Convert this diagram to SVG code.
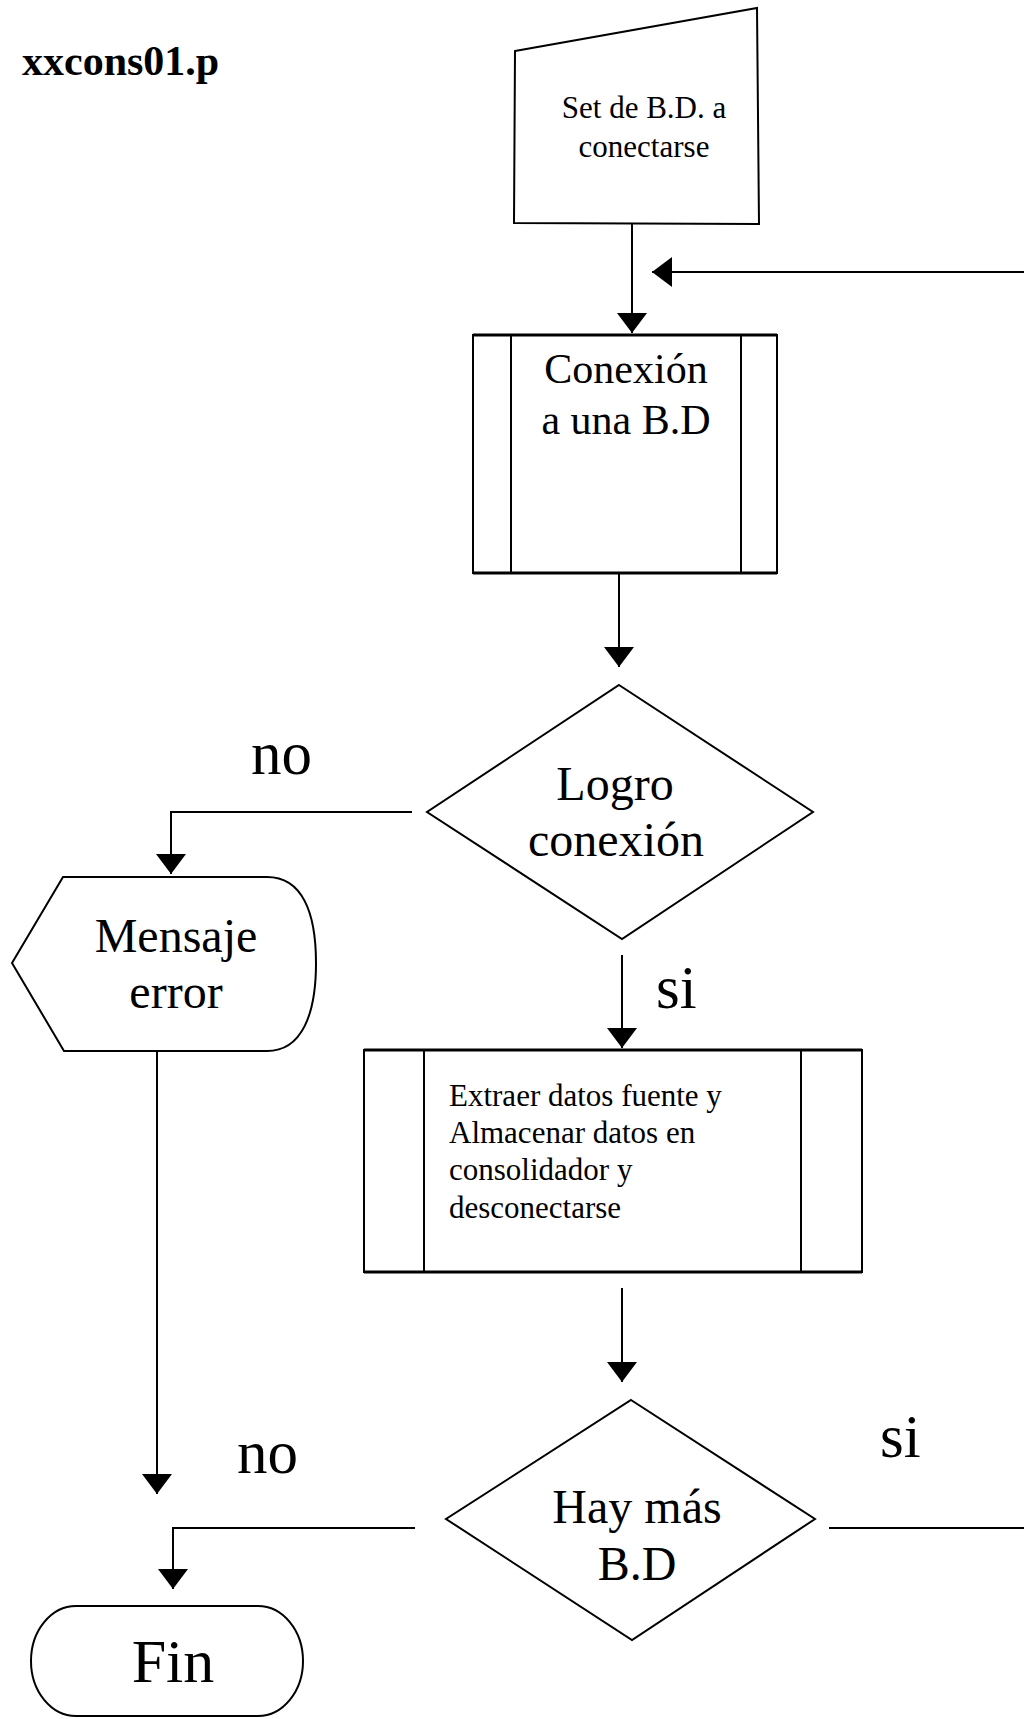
<svg xmlns="http://www.w3.org/2000/svg" width="1024" height="1719" viewBox="0 0 1024 1719">
<defs>
<style>
.shape{fill:#fff;stroke:#000;stroke-width:2}
.thick{fill:none;stroke:#000;stroke-width:3}
.ln{fill:none;stroke:#000;stroke-width:2}
.t{font-family:"Liberation Serif","Times New Roman",serif;fill:#000}
.mid{text-anchor:middle}
.s31{font-size:31px}
.s42{font-size:42px}
.s48{font-size:48px}
.lbl{font-size:61px}
</style>
<marker id="ah" markerUnits="userSpaceOnUse" markerWidth="21" markerHeight="30" refX="20" refY="15" orient="auto">
<path d="M0,0 L20,15 L0,30 Z" fill="#000"/>
</marker>
</defs>
<rect width="1024" height="1719" fill="#fff"/>

<text class="t" x="22" y="75" font-size="42" font-weight="bold">xxcons01.p</text>

<g id="connectors">
<path class="ln" d="M632,224 V333" marker-end="url(#ah)"/>
<path class="ln" d="M1024,272 H652" marker-end="url(#ah)"/>
<path class="ln" d="M619,574 V667" marker-end="url(#ah)"/>
<path class="ln" d="M412,812 H171 V874" marker-end="url(#ah)"/>
<path class="ln" d="M622,955 V1048" marker-end="url(#ah)"/>
<path class="ln" d="M622,1288 V1382" marker-end="url(#ah)"/>
<path class="ln" d="M157,1051 V1494" marker-end="url(#ah)"/>
<path class="ln" d="M415,1528 H173 V1589" marker-end="url(#ah)"/>
<path class="ln" d="M829,1528 H1024"/>
<text class="t lbl" x="251" y="774">no</text>
<text class="t lbl" x="656" y="1008">si</text>
<text class="t lbl" x="880" y="1457">si</text>
<text class="t lbl" x="237" y="1473">no</text>
</g>

<g id="set-bd">
<path class="shape" d="M515,51 L757,8 L759,224 L514,223 Z"/>
<text class="t s31 mid" x="644" y="118">Set de B.D. a</text>
<text class="t s31 mid" x="644" y="157">conectarse</text>
</g>

<g id="conexion">
<rect class="shape" x="473" y="335" width="304" height="238"/>
<path class="thick" d="M473,335 H777 M473,573 H777"/>
<path class="ln" d="M511,335 V573 M741,335 V573"/>
<text class="t s42 mid" x="626" y="383">Conexión</text>
<text class="t s42 mid" x="626" y="434">a una B.D</text>
</g>

<g id="logro">
<path class="shape" d="M619,685 L813,812 L622,939 L427,812 Z"/>
<text class="t s48 mid" x="615" y="800">Logro</text>
<text class="t s48 mid" x="616" y="856">conexión</text>
</g>

<g id="mensaje">
<path class="shape" d="M63,877 H267 C302,877 316,912 316,963 C316,1014 302,1051 267,1051 H64 L12,963 Z"/>
<text class="t s48 mid" x="176" y="952">Mensaje</text>
<text class="t s48 mid" x="176" y="1008">error</text>
</g>

<g id="extraer">
<rect class="shape" x="364" y="1050" width="498" height="222"/>
<path class="thick" d="M364,1050 H862 M364,1272 H862"/>
<path class="ln" d="M424,1050 V1272 M801,1050 V1272"/>
<text class="t s31" x="449" y="1106">Extraer datos fuente y</text>
<text class="t s31" x="449" y="1143">Almacenar datos en</text>
<text class="t s31" x="449" y="1180">consolidador y</text>
<text class="t s31" x="449" y="1218">desconectarse</text>
</g>

<g id="hay-mas">
<path class="shape" d="M631,1400 L815,1519 L632,1640 L446,1519 Z"/>
<text class="t s48 mid" x="637" y="1523">Hay más</text>
<text class="t s48 mid" x="637" y="1580">B.D</text>
</g>

<g id="fin">
<rect class="shape" x="31" y="1606" width="272" height="110" rx="45" ry="55"/>
<text class="t mid" x="173" y="1682" font-size="62">Fin</text>
</g>
</svg>
